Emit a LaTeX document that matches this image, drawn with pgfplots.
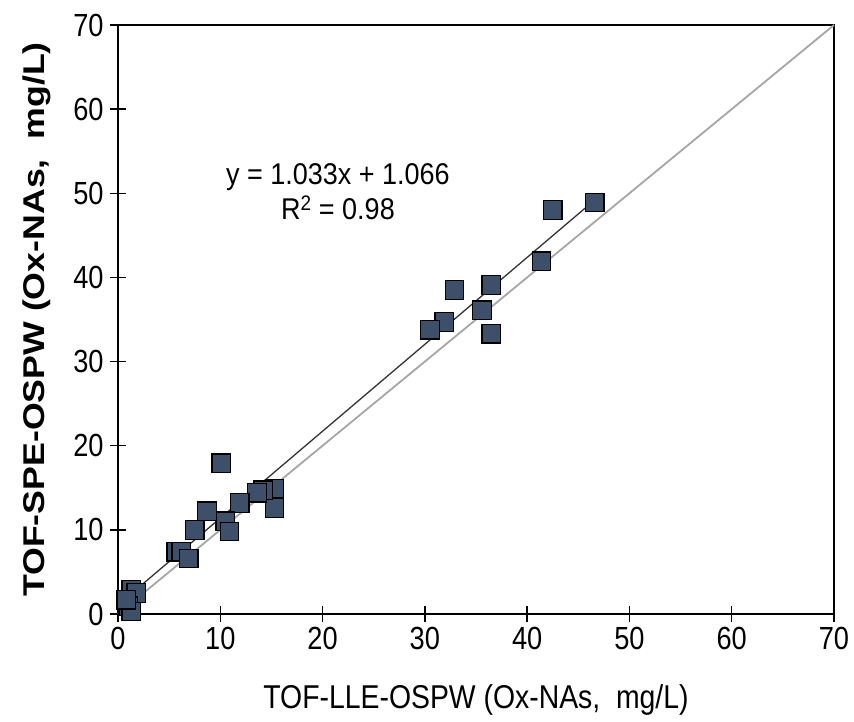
\documentclass[border=0pt]{standalone}
\usepackage{pgfplots}
\pgfplotsset{compat=1.18}
\usepackage{fontspec}
\setmainfont{Liberation Sans}
\usepackage{graphicx}
\definecolor{mk}{RGB}{62,80,105}
\begin{document}
\begin{tikzpicture}
\useasboundingbox (-118pt,-107pt) rectangle (736pt,614pt);
\begin{axis}[
  scale only axis,
  width=716pt, height=589pt,
  xmin=0, xmax=70, ymin=0, ymax=70,
  xtick={0,10,...,70}, ytick={0,10,...,70},
  xtick pos=left, ytick pos=left,
  tick align=center,
  major tick length=16pt,
  axis line style={line width=1.8pt},
  every tick/.style={black, line width=1.5pt},
  /pgf/number format/assume math mode=true,
  tick label style={font=\fontsize{32}{34}\selectfont, xscale=0.85},
  xticklabel style={yshift=-2pt},
  yticklabel style={xshift=-4pt},
  xlabel={\scalebox{0.86}[1]{TOF-LLE-OSPW (Ox-NAs,\ \ mg/L)}},
  ylabel={\scalebox{1.19}[1]{\bfseries TOF-SPE-OSPW (Ox-NAs,\ \ mg/L)}},
  xlabel style={font=\fontsize{33}{35}\selectfont, at={(axis description cs:0.5,0)}, anchor=center, yshift=-86pt},
  ylabel style={font=\fontsize{30}{32}\selectfont, at={(axis description cs:-0.113,0.5)}, anchor=center},
  clip=false,
]
\addplot[only marks, mark=square*, mark size=9.3pt, mark options={fill=mk, draw=black, line width=1.3pt}] coordinates {
(46.6,48.9) (42.5,48.0) (41.4,41.9) (36.5,39.1) (32.9,38.5) (36.5,33.3)
(35.6,36.1) (31.9,34.7) (30.5,33.8)
(10.1,17.9) (15.3,14.9) (15.3,12.6) (14.2,14.7) (13.6,14.4) (11.9,13.2)
(10.5,11.0) (10.9,9.8) (8.7,12.2) (7.5,10.0) (5.7,7.4) (6.2,7.4) (6.9,6.6)
(1.3,2.9) (1.8,2.5) (1.0,0.9) (1.3,0.3) (0.8,1.7)
};
\addplot[gray!70, line width=1.8pt] coordinates {(0,0) (70,70)};
\addplot[black!80, line width=1.3pt] coordinates {(0,1.066) (46.7,49.3)};
\node[font=\fontsize{30}{32}\selectfont, align=center] at (axis cs:21.5,50.2)
  {\scalebox{0.9}[1]{y = 1.033x + 1.066}\\[3pt]\scalebox{0.9}[1]{R\textsuperscript{2} = 0.98}};
\end{axis}
\end{tikzpicture}
\end{document}
